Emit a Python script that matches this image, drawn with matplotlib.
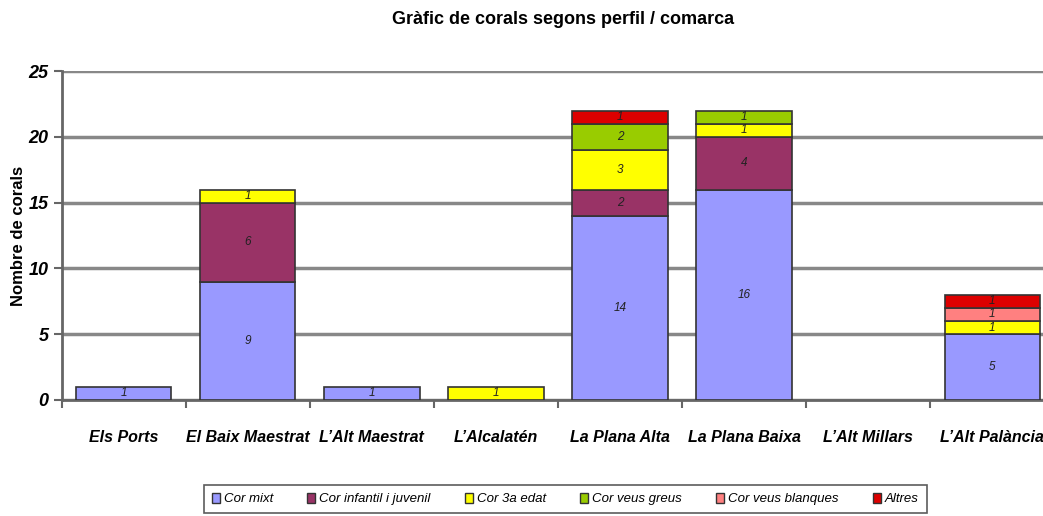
import numpy as np
import matplotlib
matplotlib.use('Agg')
import matplotlib.pyplot as plt
from matplotlib.patches import Patch

plt.rcParams['font.family'] = ['Liberation Sans', 'DejaVu Sans']

# Dades
comarques = ['Els Ports', 'El Baix Maestrat', 'L\u2019Alt Maestrat', 'L\u2019Alcalatén',
             'La Plana Alta', 'La Plana Baixa', 'L\u2019Alt Millars', 'L\u2019Alt Palància']
cor_mixt = [1, 9, 1, 0, 14, 16, 0, 5]
cor_infantil = [0, 6, 0, 0, 2, 4, 0, 0]
cor_3a_edat = [0, 1, 0, 1, 3, 1, 0, 1]
cor_veus_greus = [0, 0, 0, 0, 2, 1, 0, 0]
cor_veus_blanques = [0, 0, 0, 0, 0, 0, 0, 1]
altres = [0, 0, 0, 0, 1, 0, 0, 1]

series = [
    ('Cor mixt', cor_mixt, '#9999FF'),
    ('Cor infantil i juvenil', cor_infantil, '#993366'),
    ('Cor 3a edat', cor_3a_edat, '#FFFF00'),
    ('Cor veus greus', cor_veus_greus, '#99CC00'),
    ('Cor veus blanques', cor_veus_blanques, '#FF8080'),
    ('Altres', altres, '#DD0000'),
]

fig = plt.figure(figsize=(10.43, 5.16), dpi=100)
ax = fig.add_axes([0.059, 0.225, 0.952, 0.637])

x = np.arange(len(comarques))
bottom = np.zeros(len(comarques))
handles = []
for nom, vals, color in series:
    vals = np.array(vals, dtype=float)
    bars = ax.bar(x, vals, 0.77, bottom=bottom, color=color, edgecolor='#333333',
                  linewidth=1.2, zorder=3)
    for rect, v in zip(bars, vals):
        if v == 0:
            rect.set_linewidth(0)
    for xi, v, b in zip(x, vals, bottom):
        if v > 0:
            ax.text(xi, b + v / 2, f'{int(v)}', ha='center', va='center',
                    fontsize=8.5, style='italic', color='#222222', zorder=4)
    bottom += vals
    handles.append(Patch(facecolor=color, edgecolor='#333333', linewidth=1, label=nom))

ax.set_xlim(-0.5, len(comarques) - 0.5)
ax.set_ylim(0, 25)
ax.set_yticks([0, 5, 10, 15, 20, 25])
ax.yaxis.grid(True, color='#888888', linewidth=2.5, zorder=0)
ax.set_axisbelow(True)
for s in ['top', 'right']:
    ax.spines[s].set_visible(False)
ax.spines['left'].set_color('#666666')
ax.spines['left'].set_linewidth(2)
ax.spines['bottom'].set_color('#666666')
ax.spines['bottom'].set_linewidth(2)

ax.set_xticks(np.arange(len(comarques) + 1) - 0.5, minor=False)
ax.set_xticklabels([])
ax.set_xticks(x, minor=True)
ax.set_xticklabels(comarques, minor=True, fontsize=11.5, fontweight='bold', style='italic')
ax.tick_params(axis='x', which='minor', length=0, pad=22)
ax.tick_params(axis='x', which='major', length=6, color='#666666', width=1.5)
ax.tick_params(axis='y', length=6, color='#666666', width=1.5, labelsize=13)
for lab in ax.get_yticklabels():
    lab.set_fontweight('bold')
    lab.set_style('italic')

ax.set_ylabel('Nombre de corals', fontsize=12, fontweight='bold', labelpad=2)

fig.text(0.54, 0.963, 'Gràfic de corals segons perfil / comarca', ha='center', va='center',
         fontsize=13, fontweight='bold')

leg = fig.legend(handles=handles, loc='center', bbox_to_anchor=(0.542, 0.033), ncol=6,
                 frameon=True, fancybox=False, edgecolor='#333333',
                 prop={'size': 9.5, 'style': 'italic'},
                 handlelength=0.6, handleheight=0.8, handletextpad=0.3, columnspacing=2.6,
                 borderpad=0.6, borderaxespad=0)
leg.get_frame().set_linewidth(1.2)

fig.savefig('out.png', dpi=100)
